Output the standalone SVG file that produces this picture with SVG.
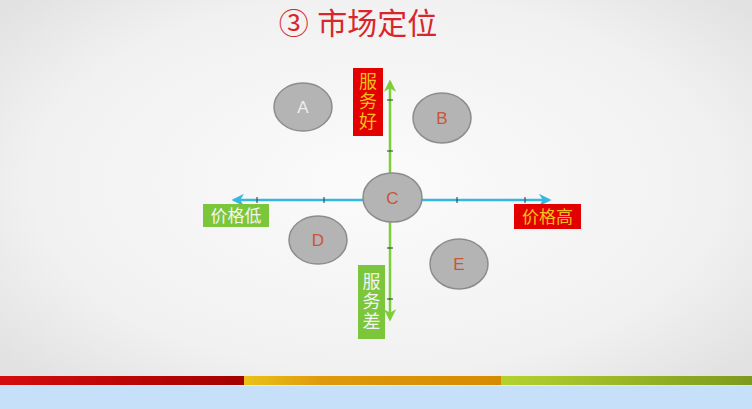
<svg xmlns="http://www.w3.org/2000/svg" width="752" height="409" viewBox="0 0 752 409">
<defs>
<radialGradient id="bg" cx="50%" cy="45%" r="65%">
<stop offset="0" stop-color="#fbfbfb"/>
<stop offset="0.7" stop-color="#f1f1f1"/>
<stop offset="1" stop-color="#e2e2e2"/>
</radialGradient>
<linearGradient id="gr" x1="0" x2="1"><stop offset="0" stop-color="#d40c0c"/><stop offset="1" stop-color="#a30000"/></linearGradient>
<linearGradient id="go" x1="0" x2="1"><stop offset="0" stop-color="#e9c21a"/><stop offset="0.3" stop-color="#de9a0c"/><stop offset="1" stop-color="#d68a00"/></linearGradient>
<linearGradient id="gg" x1="0" x2="1"><stop offset="0" stop-color="#b5d12e"/><stop offset="1" stop-color="#7d9a1e"/></linearGradient>
<marker id="ab" viewBox="0 0 10 10" refX="8" refY="5" markerWidth="5" markerHeight="5" orient="auto"><path d="M0,0 L10,5 L0,10 L3,5 z" fill="#35b8e0"/></marker>
<marker id="ag" viewBox="0 0 10 10" refX="8" refY="5" markerWidth="5" markerHeight="5" orient="auto"><path d="M0,0 L10,5 L0,10 L3,5 z" fill="#7ccf3a"/></marker>
</defs>
<style>
.t{font-family:"Liberation Sans","Noto Sans CJK SC",sans-serif}
.ell{fill:#b4b4b4;stroke:#8c8c8c;stroke-width:1.5}
.lt{font-family:"Liberation Sans",sans-serif;font-size:17px;fill:#c9553a;text-anchor:middle}
.lab{font-family:"Noto Sans CJK SC",sans-serif;font-size:17px;text-anchor:middle}
.vlab{font-family:"Noto Sans CJK SC",sans-serif;font-size:18px;text-anchor:middle;writing-mode:vertical-rl;letter-spacing:2px}
.tick{stroke:#333;stroke-width:1}
</style>
<rect width="752" height="409" fill="url(#bg)"/>
<rect x="0" y="376" width="244" height="9" fill="url(#gr)"/>
<rect x="244" y="376" width="257" height="9" fill="url(#go)"/>
<rect x="501" y="376" width="251" height="9" fill="url(#gg)"/>
<rect x="0" y="386" width="752" height="23" fill="#c6e0fa"/>
<text id="title" x="358" y="34" class="t" font-size="30" fill="#d8262c" text-anchor="middle">③ 市场定位</text>
<g id="connectors">
<line x1="363" y1="200" x2="234" y2="200" stroke="#35b8e0" stroke-width="2.5" marker-end="url(#ab)"/>
<line x1="422" y1="200" x2="549" y2="200" stroke="#35b8e0" stroke-width="2.5" marker-end="url(#ab)"/>
<line x1="390" y1="173" x2="390" y2="82" stroke="#7ccf3a" stroke-width="2.5" marker-end="url(#ag)"/>
<line x1="390" y1="222" x2="390" y2="319" stroke="#7ccf3a" stroke-width="2.5" marker-end="url(#ag)"/>
<line class="tick" x1="257" y1="197" x2="257" y2="203"/>
<line class="tick" x1="324" y1="197" x2="324" y2="203"/>
<line class="tick" x1="457" y1="197" x2="457" y2="203"/>
<line class="tick" x1="525" y1="197" x2="525" y2="203"/>
<line class="tick" x1="387" y1="100" x2="393" y2="100"/>
<line class="tick" x1="387" y1="151" x2="393" y2="151"/>
<line class="tick" x1="387" y1="248" x2="393" y2="248"/>
<line class="tick" x1="387" y1="299" x2="393" y2="299"/>
</g>
<g id="A"><ellipse class="ell" cx="303" cy="107" rx="29" ry="24"/><text x="303" y="113" class="lt" style="fill:#eeeeee">A</text></g>
<g id="B"><ellipse class="ell" cx="442" cy="118" rx="29" ry="25"/><text x="442" y="124" class="lt">B</text></g>
<g id="C"><ellipse class="ell" cx="392.5" cy="197.5" rx="29.5" ry="24.5"/><text x="392.5" y="204" class="lt">C</text></g>
<g id="D"><ellipse class="ell" cx="318" cy="240" rx="29" ry="24"/><text x="318" y="246" class="lt">D</text></g>
<g id="E"><ellipse class="ell" cx="459" cy="264" rx="29" ry="25"/><text x="459" y="270" class="lt">E</text></g>
<g id="label-good"><rect x="353" y="68" width="30" height="68" fill="#e30000"/>
<text x="368" y="102" class="vlab" fill="#f3c01e">服务好</text></g>
<g id="label-bad"><rect x="358" y="265" width="27" height="74" fill="#7cc63c"/>
<text x="371.5" y="302" class="vlab" fill="#f4f4f4">服务差</text></g>
<g id="label-low"><rect x="203" y="204" width="66" height="23" fill="#7cc63c"/>
<text x="236" y="222" class="lab" fill="#f4f4f4">价格低</text></g>
<g id="label-high"><rect x="514" y="204" width="67" height="25" fill="#e30000"/>
<text x="547.5" y="223" class="lab" fill="#f3c01e">价格高</text></g>
</svg>
